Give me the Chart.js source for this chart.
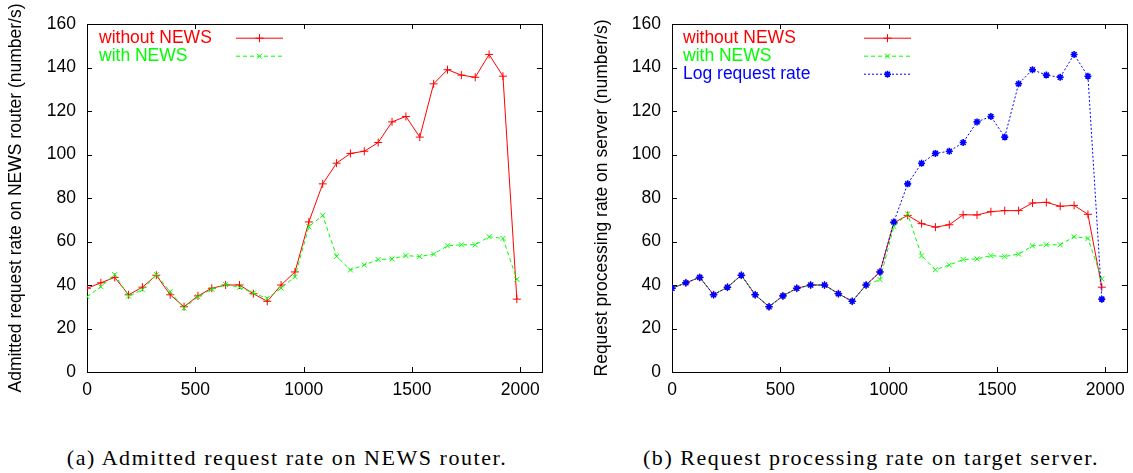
<!DOCTYPE html>
<html><head><meta charset="utf-8">
<script src="https://cdn.jsdelivr.net/npm/chart.js@4/dist/chart.umd.min.js"></script>
<style>
html,body{margin:0;padding:0;background:#fff;width:1133px;height:473px;overflow:hidden;position:relative}
#ca{position:absolute;left:0;top:0}
#cb{position:absolute;left:566px;top:0}
.cap{position:absolute;top:447px;font-family:"Liberation Serif",serif;font-size:22px;line-height:22px;letter-spacing:1.55px;text-align:center;white-space:nowrap;color:#000}
</style></head>
<body>
<canvas id="ca" width="548" height="420"></canvas>
<canvas id="cb" width="567" height="420"></canvas>
<div class="cap" style="left:0;width:574px">(a) Admitted request rate on NEWS router.</div>
<div class="cap" style="left:609px;width:524px">(b) Request processing rate on target server.</div>
<script>
// ---- data ----
const timeX = [0,64,128,192,256,320,384,448,512,576,640,704,768,832,896,960,1024,1088,1152,1216,1280,1344,1408,1472,1536,1600,1664,1728,1792,1856,1920,1984];
const xTickValues = [0,500,1000,1500,2000];
const yTickValues = [0,20,40,60,80,100,120,140,160];

// (a) admitted request rate on NEWS router
const routerWithout = [38.5,41,43.5,35.5,39,44.5,35.5,30,35,38.5,40,40,36,32.5,40,46,69,86.5,96,100.5,101.5,105.5,115,117.5,108,132.5,139,136.5,135.5,146,136,33.5];
const routerWith = [34.6,39.2,44.8,34.9,37.8,44.8,36.9,29.4,34.6,38,40.2,38.9,36.3,33.8,38.6,43.8,66.8,72,53.2,46.9,49.2,51.7,52,53.5,53.1,54.2,58,58.5,58.5,62.2,61.4,42.6];

// (b) request processing rate on server
const serverWithout = [38.5,41,43.5,35.5,39,44.5,35.5,30,35,38.5,40,40,36,32.5,40,46,68.6,72,68.2,66.6,67.7,72.3,72.2,73.7,74.2,74.2,77.7,78,76.2,76.6,72.5,39];
const serverWith = [38.5,41,43.5,35.5,39,44.5,35.5,30,35,38.5,40,40,36,32.5,40,42.5,66.9,72.7,53.4,47,49.2,51.7,52,53.5,53.1,54.2,58,58.5,58.5,62.2,61.4,42.8];
const logRequestRate = [38.5,41,43.5,35.5,39,44.5,35.5,30,35,38.5,40,40,36,32.5,40,46,69,86.5,96,100.5,101.5,105.5,115,117.5,108,132.5,139,136.5,135.5,146,136,33.5];

const labelsA = ['without NEWS','with NEWS'];
const labelsB = ['without NEWS','with NEWS','Log request rate'];
const titleA = 'Admitted request rate on NEWS router (number/s)';
const titleB = 'Request processing rate on server (number/s)';

// ---- helpers ----
const FONT = '"Liberation Sans", Arial, sans-serif';
const FS = 17.5;
const pts = arr => arr.map((v,i)=>({x:timeX[i], y:v}));
const styleRed = {borderColor:'#ff0000', backgroundColor:'#ff0000', borderWidth:1, pointStyle:'cross', pointRadius:4, pointBorderWidth:1, pointBorderColor:'#ff0000'};
const styleGreen = {borderColor:'#00ff00', backgroundColor:'#00ff00', borderWidth:1, borderDash:[4,3], pointStyle:'crossRot', pointRadius:3.5, pointBorderWidth:1, pointBorderColor:'#00ff00'};
const styleBlue = {borderColor:'#0000ff', backgroundColor:'#0000ff', borderWidth:1, borderDash:[2,2], pointStyle:'star', pointRadius:3.5, pointBorderWidth:1.6, pointBorderColor:'#0000ff'};

const frameTicks = {
  id:'frameTicks',
  beforeDatasetsDraw(chart){
    const {ctx, chartArea:ca, scales:{x,y}} = chart;
    ctx.save();
    ctx.strokeStyle = '#000'; ctx.lineWidth = 1; ctx.setLineDash([]);
    ctx.strokeRect(Math.round(ca.left)+0.5, Math.round(ca.top)+0.5, Math.round(ca.right-ca.left), Math.round(ca.bottom-ca.top));
    const L = 5;
    ctx.beginPath();
    xTickValues.forEach(v=>{
      const p = Math.round(x.getPixelForValue(v))+0.5;
      ctx.moveTo(p, ca.bottom); ctx.lineTo(p, ca.bottom-L);
      ctx.moveTo(p, ca.top); ctx.lineTo(p, ca.top+L);
    });
    yTickValues.forEach(v=>{
      const p = Math.round(y.getPixelForValue(v))+0.5;
      ctx.moveTo(ca.left, p); ctx.lineTo(ca.left+L, p);
      ctx.moveTo(ca.right, p); ctx.lineTo(ca.right-L, p);
    });
    ctx.stroke();
    ctx.restore();
  }
};

const insideLegend = {
  id:'insideLegend',
  afterDatasetsDraw(chart, args, o){
    const {ctx, chartArea:ca} = chart;
    chart.data.datasets.forEach((ds,i)=>{
      const yy = ca.top + o.top + i*o.spacing;
      ctx.save();
      ctx.font = FS + 'px ' + FONT;
      ctx.fillStyle = ds.borderColor; ctx.textBaseline = 'middle'; ctx.textAlign = 'left';
      ctx.fillText(ds.label, ca.left + o.textX, yy);
      ctx.strokeStyle = ds.borderColor; ctx.lineWidth = ds.borderWidth;
      ctx.setLineDash(ds.borderDash || []);
      ctx.beginPath(); ctx.moveTo(ca.left+o.x0, yy+0.5); ctx.lineTo(ca.left+o.x1, yy+0.5); ctx.stroke();
      ctx.setLineDash([]);
      ctx.lineWidth = ds.pointBorderWidth;
      Chart.helpers.drawPoint(ctx, {pointStyle:ds.pointStyle, radius:ds.pointRadius, borderWidth:ds.pointBorderWidth, rotation:0}, ca.left+(o.x0+o.x1)/2, yy+0.5);
      ctx.restore();
    });
  }
};

function makeOptions(yTitle, yWidth, titlePad, legendOpts){
  return {
    responsive:false, animation:false, devicePixelRatio:1,
    layout:{padding:{top:24, right:4, left:0, bottom:0}},
    plugins:{legend:{display:false}, tooltip:{enabled:false}, insideLegend:legendOpts},
    elements:{line:{tension:0}},
    scales:{
      x:{type:'linear', min:0, max:2100,
         afterBuildTicks: s=>{ s.ticks = xTickValues.map(v=>({value:v})); },
         ticks:{autoSkip:false, maxRotation:0, color:'#000', font:{family:FONT, size:FS}, padding:8, callback:v=>String(v)},
         grid:{display:false, drawTicks:false}, border:{display:false},
         afterFit: s=>{ s.height = 48; }},
      y:{type:'linear', min:0, max:160,
         afterBuildTicks: s=>{ s.ticks = yTickValues.map(v=>({value:v})); },
         ticks:{color:'#000', font:{family:FONT, size:FS}, padding:11, callback:v=>String(v)},
         grid:{display:false, drawTicks:false}, border:{display:false},
         title:{display:true, text:yTitle, color:'#000', font:{family:FONT, size:FS}, padding:{top:titlePad, bottom:0}},
         afterFit: s=>{ s.width = yWidth; }}
    }
  };
}

new Chart(document.getElementById('ca'), {
  type:'line',
  data:{datasets:[
    Object.assign({label:labelsA[0], data:pts(routerWithout), order:2}, styleRed),
    Object.assign({label:labelsA[1], data:pts(routerWith), order:1}, styleGreen)
  ]},
  options: makeOptions(titleA, 87, 5.5, {textX:12, top:13.7, spacing:18, x0:149, x1:196}),
  plugins:[frameTicks, insideLegend]
});

new Chart(document.getElementById('cb'), {
  type:'line',
  data:{datasets:[
    Object.assign({label:labelsB[0], data:pts(serverWithout), order:3}, styleRed),
    Object.assign({label:labelsB[1], data:pts(serverWith), order:2}, styleGreen),
    Object.assign({label:labelsB[2], data:pts(logRequestRate), order:1}, styleBlue)
  ]},
  options: makeOptions(titleB, 106, 25.5, {textX:11, top:13.7, spacing:18, x0:192, x1:239}),
  plugins:[frameTicks, insideLegend]
});
</script>
</body></html>
